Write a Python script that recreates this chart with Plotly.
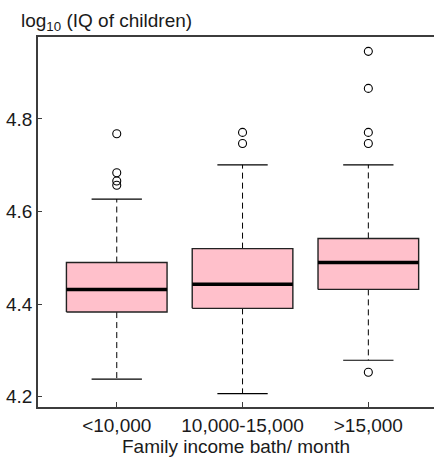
import plotly.graph_objects as go

# ---- data ----
categories = ["<10,000", "10,000-15,000", ">15,000"]
q1 = [4.383, 4.391, 4.432]
median = [4.432, 4.443, 4.490]
q3 = [4.490, 4.520, 4.542]
lower_whisker = [4.238, 4.207, 4.279]
upper_whisker = [4.627, 4.701, 4.701]
outliers = [
    [4.768, 4.684, 4.666, 4.657],
    [4.771, 4.747],
    [4.946, 4.866, 4.771, 4.747, 4.253],
]

positions = [1, 2, 3]
box_half = 0.4
cap_half = 0.2
FONT = "Liberation Sans, Arial, sans-serif"
AXC = "#3c3c3c"

fig = go.Figure()

for i, x in enumerate(positions):
    # whiskers (dashed)
    fig.add_trace(go.Scatter(
        x=[x, x, None, x, x],
        y=[q3[i], upper_whisker[i], None, q1[i], lower_whisker[i]],
        mode="lines", line=dict(color="black", width=1, dash="6px,4px"),
        hoverinfo="skip", showlegend=False))
    # caps
    fig.add_trace(go.Scatter(
        x=[x - cap_half, x + cap_half, None, x - cap_half, x + cap_half],
        y=[upper_whisker[i], upper_whisker[i], None, lower_whisker[i], lower_whisker[i]],
        mode="lines", line=dict(color="black", width=1.2),
        hoverinfo="skip", showlegend=False))
    # box
    fig.add_trace(go.Scatter(
        x=[x - box_half, x + box_half, x + box_half, x - box_half, x - box_half],
        y=[q1[i], q1[i], q3[i], q3[i], q1[i]],
        mode="lines", fill="toself", fillcolor="#FFC0CB",
        line=dict(color="#222222", width=1.4),
        hoverinfo="skip", showlegend=False))
    # median
    fig.add_trace(go.Scatter(
        x=[x - box_half, x + box_half], y=[median[i], median[i]],
        mode="lines", line=dict(color="black", width=3.5),
        hoverinfo="skip", showlegend=False))
    # outliers
    fig.add_trace(go.Scatter(
        x=[x] * len(outliers[i]), y=outliers[i], mode="markers",
        marker=dict(symbol="circle-open", size=8, color="black", line=dict(width=1.1)),
        showlegend=False))

fig.update_layout(
    width=434, height=459,
    margin=dict(l=38, r=0, t=37, b=52),
    paper_bgcolor="white", plot_bgcolor="white",
    font=dict(family=FONT, size=19, color="#1a1a1a"),
    xaxis=dict(
        range=[0.374, 3.522], tickmode="array", tickvals=positions, ticktext=categories,
        ticks="inside", ticklen=5, tickcolor=AXC, tickwidth=1.3,
        showline=True, linecolor=AXC, linewidth=1.5, mirror=True,
        showgrid=False, zeroline=False, automargin=False,
        tickfont=dict(size=19),
        title=dict(text="Family income bath/ month", font=dict(size=19), standoff=4),
    ),
    yaxis=dict(
        range=[4.178, 4.977], tickmode="array", tickvals=[4.2, 4.4, 4.6, 4.8],
        ticktext=["4.2", "4.4", "4.6", "4.8"],
        ticks="inside", ticklen=4, tickcolor=AXC, tickwidth=1.3,
        showline=True, linecolor=AXC, linewidth=1.5,
        showgrid=False, zeroline=False, automargin=False,
        tickfont=dict(size=19),
    ),
    annotations=[dict(
        text="log<sub>10</sub> (IQ of children)", xref="paper", yref="paper",
        x=-0.048, y=1.04, xanchor="left", yanchor="middle", showarrow=False,
        font=dict(size=19, family=FONT, color="#1a1a1a"))],
)

fig.write_html(
    "out.html",
    config={"displayModeBar": False},
    post_script="document.body.style.margin='0';document.body.style.overflow='hidden';",
)
